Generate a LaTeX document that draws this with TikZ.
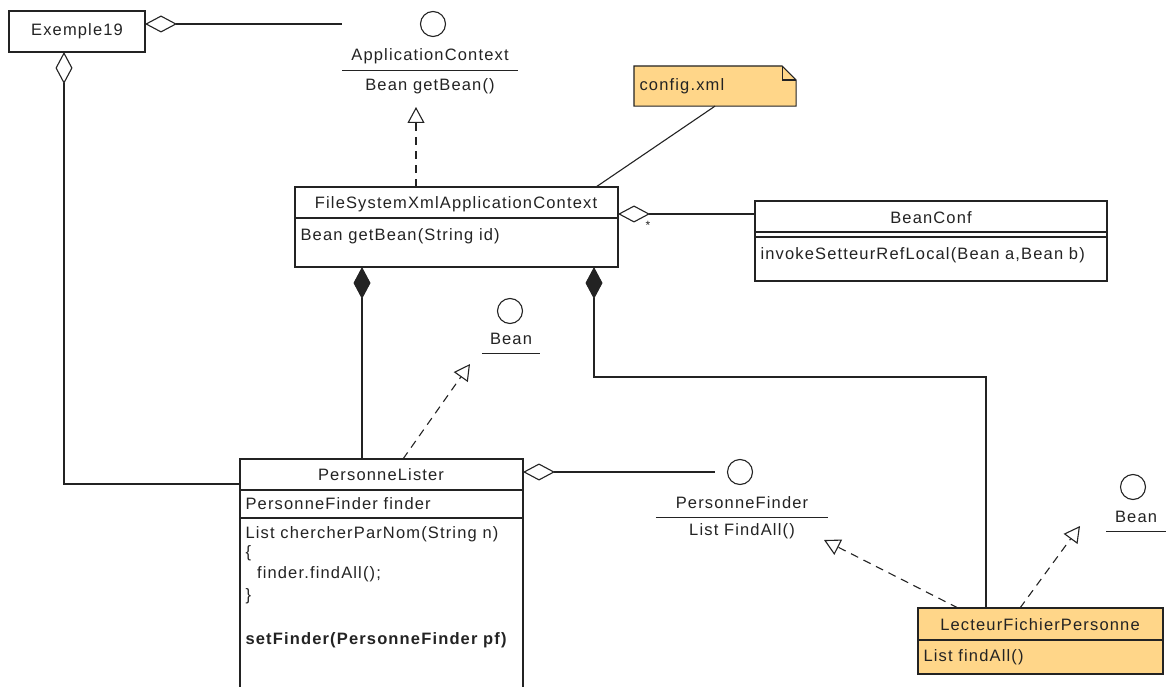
\documentclass[tikz,border=0pt]{standalone}
\usepackage{fontspec}
\setmainfont{Liberation Sans}[LetterSpace=7]
\usetikzlibrary{arrows.meta,positioning,calc}
\definecolor{vpnote}{RGB}{255,214,137}
\definecolor{vpline}{RGB}{35,35,35}

\begin{document}
\begin{tikzpicture}[x=1pt,y=-1pt,line width=1.1pt,color=vpline,
  every node/.style={font=\fontsize{16.5}{19}\selectfont},
  cls/.style={draw,fill=white,inner sep=0pt,outer sep=0pt,anchor=north west},
  txt/.style={inner sep=2pt,anchor=west},
  nm/.style={inner sep=0pt},
  ifc/.style={draw,circle,minimum size=25pt,inner sep=0pt},
  agg/.style={{Diamond[open,length=32pt,width=17pt]}-},
  comp/.style={{Diamond[length=32pt,width=17pt]}-},
  real/.style={dash pattern=on 8pt off 6pt,-{Triangle[open,length=16pt,width=17pt]}}]
  \clip (0,0) rectangle (1173,687);
  \fill[white] (0,0) rectangle (1173,687);

  \node[cls,minimum width=136pt,minimum height=41pt] (ex) at (9,11) {Exemple19};

  \node[ifc] (ac) at (433,24) {};
  \node[nm,minimum width=174pt,minimum height=28pt] (acname) at (430,56) {ApplicationContext};
  \draw (acname.south west) -- (acname.south east);
  \node (acops) at (430,86) {Bean getBean()};
  \coordinate (acin) at (416,107);

  \node[minimum width=161pt,minimum height=39pt,inner sep=0pt,anchor=north west] (note) at (634,66) {};
  \draw[fill=vpnote] (note.south west) -- (note.north west) -- ([xshift=-14pt]note.north east)
    -- ([yshift=-14pt]note.north east) -- (note.south east) -- cycle;
  \draw ([xshift=-14pt]note.north east) |- ([yshift=-14pt]note.north east);
  \node[txt] at (637,86) {config.xml};

  \node[cls,minimum width=323pt,minimum height=80pt] (fsx) at (295,187) {};
  \node at (456,204) {FileSystemXmlApplicationContext};
  \draw (fsx.west |- 0,218) -- (fsx.east |- 0,218);
  \node[txt] at (298,236) {Bean getBean(String id)};

  \node[cls,minimum width=352pt,minimum height=80pt] (bc) at (755,201) {};
  \node at (931,218) {BeanConf};
  \draw (bc.west |- 0,232) -- (bc.east |- 0,232);
  \draw (bc.west |- 0,237) -- (bc.east |- 0,237);
  \node[txt] at (758,255) {invokeSetteurRefLocal(Bean a,Bean b)};

  \node[ifc] (b1) at (510,311) {};
  \node[nm,minimum width=57pt,minimum height=28pt] (b1name) at (511,339) {Bean};
  \draw (b1name.south west) -- (b1name.south east);
  \coordinate (b1in) at (470,364);

  \node[cls,minimum width=283pt,minimum height=240pt] (pl) at (240,459) {};
  \node at (381,475) {PersonneLister};
  \draw (pl.west |- 0,490) -- (pl.east |- 0,490);
  \draw (pl.west |- 0,518) -- (pl.east |- 0,518);
  \node[txt] at (243,504) {PersonneFinder finder};
  \node[txt] at (243,534) {List chercherParNom(String n)};
  \node[txt] at (243,553) {\{};
  \node[txt] at (243,574) {\ \ finder.findAll();};
  \node[txt] at (243,596) {\}};
  \node[txt] at (243,640) {\bfseries setFinder(PersonneFinder pf)};

  \node[ifc] (pf) at (740,472) {};
  \node[nm,minimum width=171pt,minimum height=28pt] (pfname) at (742,503) {PersonneFinder};
  \draw (pfname.south west) -- (pfname.south east);
  \node (pfops) at (742,531) {List FindAll()};
  \coordinate (pfin) at (824,540);

  \node[ifc] (b2) at (1133,487) {};
  \node[nm,minimum width=58pt,minimum height=28pt] (b2name) at (1136,517) {Bean};
  \draw (b2name.south west) -- (b2name.south east);
  \coordinate (b2in) at (1080,526);

  \node[cls,fill=vpnote,minimum width=245pt,minimum height=66pt] (lfp) at (918,608) {};
  \node at (1040,625) {LecteurFichierPersonne};
  \draw (lfp.west |- 0,640) -- (lfp.east |- 0,640);
  \node[txt] at (921,657) {List findAll()};

  \coordinate (bend) at (594,377);

  \draw[agg] (ex.east |- ac) -- (acname.west |- ac);
  \draw[agg] (ex.south -| 64,0) |- (pl.west |- 0,484);
  \draw[real] (fsx.north -| acin) -- (acin);
  \draw (note.south) -- (fsx.north -| 596,0);
  \draw[agg] (fsx.east |- 0,214) -- (bc.west |- 0,214);
  \node[font=\fontsize{12}{12}\selectfont] (mult) at (648,225) {*};
  \draw[comp] (fsx.south -| 362,0) -- (pl.north -| 362,0);
  \draw[comp] (fsx.south -| bend) -- (bend) -| (lfp.north -| 986,0);
  \draw[real] (pl.north -| 403,0) -- (b1in);
  \draw[agg] (pl.east |- pf) -- ([xshift=-12pt]pf.west);
  \draw[real] (lfp.north -| 958,0) -- (pfin);
  \draw[real] (lfp.north -| 1020,0) -- (b2in);
\end{tikzpicture}
\end{document}
